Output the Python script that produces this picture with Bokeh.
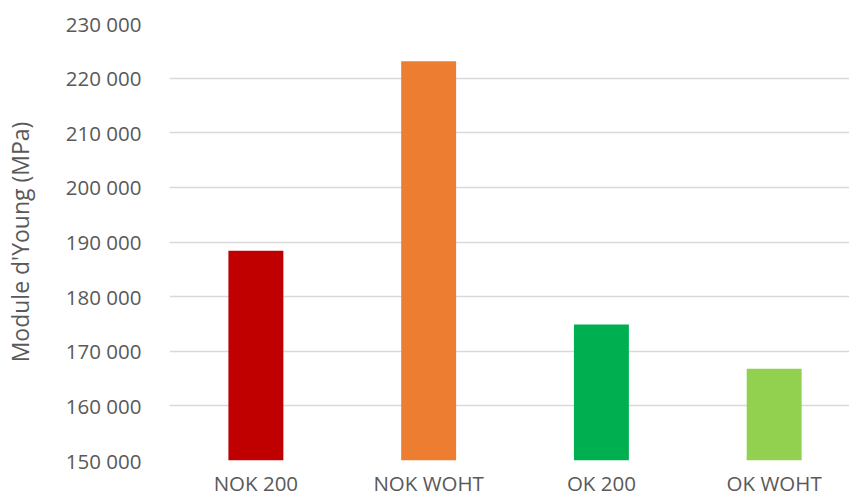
from bokeh.plotting import figure
from bokeh.models import Range1d, FixedTicker, ColumnDataSource
from bokeh.embed import file_html
from bokeh.resources import INLINE

categories = ["NOK 200", "NOK WOHT", "OK 200", "OK WOHT"]
values = [188400, 223100, 174900, 166800]
colors = ["#C00000", "#ED7D31", "#00B050", "#92D050"]
y_ticks = [150000, 160000, 170000, 180000, 190000, 200000, 210000, 220000, 230000]
y_tick_labels = ["150 000", "160 000", "170 000", "180 000", "190 000",
                 "200 000", "210 000", "220 000", "230 000"]
y_label = "Module d'Young (MPa)"

FONT = "Open Sans"
TXT = "#595959"

xs = list(range(len(categories)))
src = ColumnDataSource(dict(x=xs, top=values, color=colors, cat=categories))

p = figure(width=849, height=499, output_backend="svg", toolbar_location=None,
           x_range=Range1d(-0.5, 3.436), y_range=Range1d(y_ticks[0], y_ticks[-1]),
           min_border_left=168, min_border_right=0, min_border_top=23, min_border_bottom=0)
p.outline_line_color = None
p.background_fill_color = "white"
p.border_fill_color = "white"

p.vbar(x="x", top="top", bottom=y_ticks[0], width=0.318, fill_color="color",
       line_color=None, source=src)

# y axis
p.yaxis.ticker = FixedTicker(ticks=y_ticks)
p.yaxis.major_label_overrides = {t: l for t, l in zip(y_ticks, y_tick_labels)}
p.yaxis.axis_line_color = None
p.yaxis.major_tick_line_color = None
p.yaxis.minor_tick_line_color = None
p.yaxis.major_tick_out = 0
p.yaxis.major_tick_in = 0
p.yaxis.major_label_standoff = 28
p.yaxis.major_label_text_font = FONT
p.yaxis.major_label_text_font_size = "20.5px"
p.yaxis.major_label_text_color = TXT
p.yaxis.axis_label = y_label
p.yaxis.axis_label_text_font = FONT
p.yaxis.axis_label_text_font_size = "23px"
p.yaxis.axis_label_text_font_style = "normal"
p.yaxis.axis_label_text_color = TXT
p.yaxis.axis_label_standoff = 27

# x axis
p.xaxis.ticker = FixedTicker(ticks=xs)
p.xaxis.major_label_overrides = {i: c for i, c in zip(xs, categories)}
p.xaxis.axis_line_color = None
p.xaxis.major_tick_line_color = None
p.xaxis.minor_tick_line_color = None
p.xaxis.major_tick_out = 0
p.xaxis.major_tick_in = 0
p.xaxis.major_label_standoff = 8
p.xaxis.major_label_text_font = FONT
p.xaxis.major_label_text_font_size = "20.5px"
p.xaxis.major_label_text_color = TXT

p.xgrid.grid_line_color = None
p.ygrid.ticker = FixedTicker(ticks=y_ticks)
p.ygrid.grid_line_color = "#D9D9D9"
p.ygrid.grid_line_width = 1.6

open("out.html", "w").write(file_html(p, INLINE))
